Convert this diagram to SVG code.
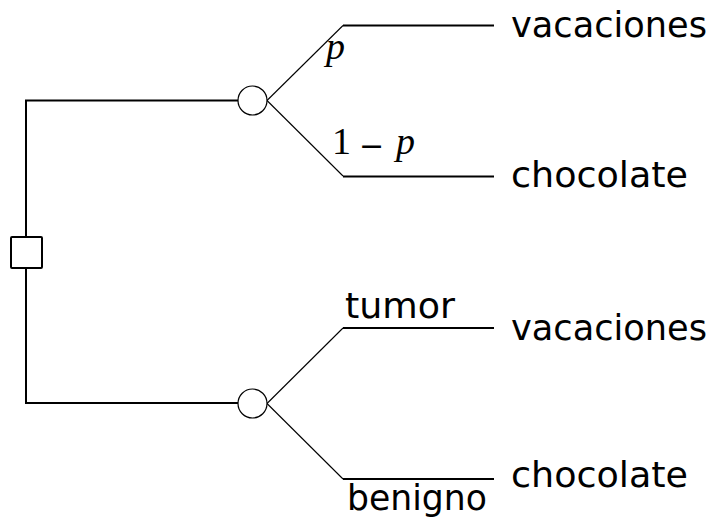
<svg xmlns="http://www.w3.org/2000/svg" width="714" height="517" viewBox="0 0 714 517">
<style>
.bg{fill:#fff}
.thick{stroke:#000;stroke-width:2;fill:none}
.thin{stroke:#000;stroke-width:1.1;fill:none}
.chance{fill:#fff;stroke:#000;stroke-width:1.2}
.dec{fill:#fff;stroke:#000;stroke-width:2}
.lbl{font-family:"DejaVu Sans",sans-serif;font-size:35px;fill:#000}
.math{font-family:"Liberation Serif","DejaVu Serif",serif;font-size:38px;fill:#000}
.mi{font-style:italic}
.minus{font-family:"DejaVu Sans",sans-serif;font-size:30px;fill:#000}
</style>
<rect class="bg" x="0" y="0" width="714" height="517"/>
<g id="connectors">
<polyline class="thick" points="238,100.5 26,100.5 26,403 238,403"/>
<line class="thick" x1="26" y1="403" x2="238" y2="403" stroke-width="3"/>
<polyline class="thin" points="267,100.5 343,25.5"/>
<polyline class="thin" points="267,100.5 343,176"/>
<polyline class="thin" points="267,403.5 343,328"/>
<polyline class="thin" points="267,403.5 343,479"/>
<line class="thick" x1="343" y1="25.5" x2="494" y2="25.5"/>
<line class="thick" x1="343" y1="176.5" x2="494" y2="176.5"/>
<line class="thick" x1="343" y1="328" x2="494" y2="328"/>
<line class="thick" x1="343" y1="479" x2="494" y2="479"/>
</g>
<g id="decision">
<rect class="dec" x="11" y="237" width="31" height="31" rx="1"/>
</g>
<g id="chance1">
<circle class="chance" cx="252.5" cy="100.5" r="14.5"/>
</g>
<g id="chance2">
<circle class="chance" cx="252.5" cy="403.5" r="14.5"/>
</g>
<g id="labels">
<text class="math mi" x="326" y="59">p</text>
<text class="math" x="332" y="154">1</text>
<text class="minus" x="359" y="155.5">−</text>
<text class="math mi" x="396" y="154">p</text>
<text class="lbl" x="345" y="318" textLength="110" lengthAdjust="spacingAndGlyphs">tumor</text>
<text class="lbl" x="347" y="510" textLength="140" lengthAdjust="spacingAndGlyphs">benigno</text>
</g>
<g id="outcome1"><text class="lbl" x="511" y="37" textLength="196" lengthAdjust="spacingAndGlyphs">vacaciones</text></g>
<g id="outcome2"><text class="lbl" x="511" y="187" textLength="177" lengthAdjust="spacingAndGlyphs">chocolate</text></g>
<g id="outcome3"><text class="lbl" x="511" y="340" textLength="196" lengthAdjust="spacingAndGlyphs">vacaciones</text></g>
<g id="outcome4"><text class="lbl" x="511" y="487" textLength="177" lengthAdjust="spacingAndGlyphs">chocolate</text></g>
</svg>
